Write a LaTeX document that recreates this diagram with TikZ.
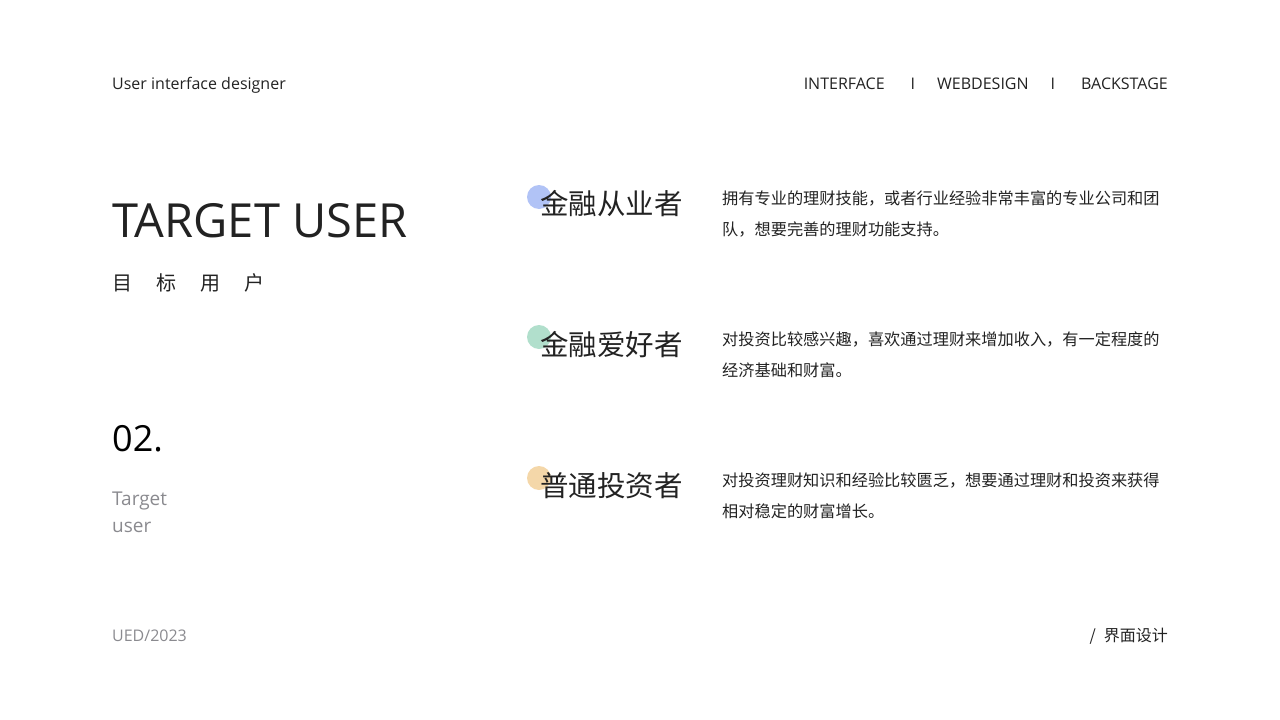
\documentclass[tikz,border=0pt]{standalone}
\usepackage{fontspec}
\setmainfont{Open Sans}
\newfontfamily\cjk{Noto Sans CJK SC}
\definecolor{ink}{HTML}{222222}
\definecolor{greytext}{HTML}{8A8A8F}
\definecolor{dotblue}{HTML}{A9BCF5}
\definecolor{dotgreen}{HTML}{A8DCC6}
\definecolor{dotorange}{HTML}{F3D3A0}
\tikzset{
  txt/.style={anchor=base west, inner sep=0pt, text=ink},
  dot/.style={circle, inner sep=0pt, minimum size=24pt, fill opacity=.9},
  desc/.style={txt, font=\cjk\fontsize{16.2}{31}\selectfont, align=left}
}
\begin{document}
\begin{tikzpicture}[x=1pt,y=-1pt]
          \useasboundingbox (0,0) rectangle (1280,720);
          % header
          \node[txt, font=\fontsize{16}{18}\selectfont] (role) at (112,89) {User interface designer};
          \node[txt, anchor=base east, font=\fontsize{16}{18}\selectfont] (menu) at (1168,89)
            {INTERFACE\hspace{26pt}I\hspace{22pt}WEBDESIGN\hspace{22pt}I\hspace{26pt}BACKSTAGE};
          % left column
          \node[txt, font=\fontsize{47}{50}\selectfont] (title) at (112,237) {TARGET USER};
          \node[txt, font=\cjk\fontsize{20}{24}\selectfont] (subtitle) at (112,290) {目\hspace{24pt}标\hspace{24pt}用\hspace{24pt}户};
          \node[txt, font=\fontsize{36}{40}\selectfont, text=black] (num) at (112,451) {02.};
          \node[txt, font=\fontsize{19}{27}\selectfont, text=greytext] (tag) at (112,505) {Target};
          \node[txt, font=\fontsize{19}{27}\selectfont, text=greytext] (tag2) at (112,532) {user};
          % user groups
          \node[dot, fill=dotblue] (d1) at (539,197) {};
          \node[dot, fill=dotgreen] (d2) at (539,337) {};
          \node[dot, fill=dotorange] (d3) at (539,478) {};
          \node[txt, font=\cjk\fontsize{28.5}{30}\selectfont] (g1) at (540,214) {金融从业者};
          \node[txt, font=\cjk\fontsize{28.5}{30}\selectfont] (g2) at (540,355) {金融爱好者};
          \node[txt, font=\cjk\fontsize{28.5}{30}\selectfont] (g3) at (540,496) {普通投资者};
          \node[desc, anchor=north west] (t1) at (722,191) {拥有专业的理财技能，或者行业经验非常丰富的专业公司和团\\队，想要完善的理财功能支持。};
          \node[desc, anchor=north west] (t2) at (722,332) {对投资比较感兴趣，喜欢通过理财来增加收入，有一定程度的\\经济基础和财富。};
          \node[desc, anchor=north west] (t3) at (722,473) {对投资理财知识和经验比较匮乏，想要通过理财和投资来获得\\相对稳定的财富增长。};
          % footer
          \node[txt, font=\fontsize{16}{18}\selectfont, text=greytext] (year) at (112,641) {UED/2023};
          \node[txt, anchor=base east, font=\cjk\fontsize{16}{18}\selectfont] (foot) at (1168,641) {/\hspace{8pt}界面设计};
\end{tikzpicture}
\end{document}
